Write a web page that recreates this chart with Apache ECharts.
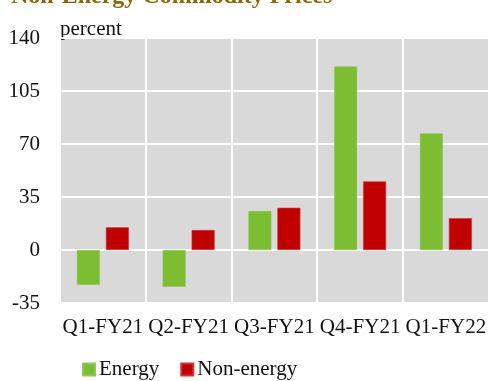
<!DOCTYPE html>
<html>
<head>
<meta charset="utf-8">
<script src="https://cdn.jsdelivr.net/npm/echarts@6/dist/echarts.min.js"></script>
<style>
  html, body { margin: 0; padding: 0; background: #fff; }
  #chart { width: 489px; height: 381px; }
</style>
</head>
<body>
<div id="chart"></div>
<script>
// Quarterly change in commodity prices, percent
var categories = ['Q1-FY21', 'Q2-FY21', 'Q3-FY21', 'Q4-FY21', 'Q1-FY22'];
var energy = [-23, -24.3, 25.8, 121.2, 77];
var nonEnergy = [15, 13.2, 27.9, 45.3, 21];
var yTicks = { min: -35, max: 140, step: 35 };

var FONT = '"Liberation Serif", "Times New Roman", serif';

var chart = echarts.init(document.getElementById('chart'), null, { renderer: 'canvas' });
chart.setOption({
  animation: false,
  backgroundColor: '#ffffff',
  textStyle: { fontFamily: FONT },
  graphic: [
    {
      type: 'text',
      left: 11,
      top: -15,
      style: {
        text: 'Non-Energy Commodity Prices',
        font: 'bold 24px ' + FONT,
        fill: '#8b6508'
      }
    },
    {
      type: 'text',
      left: 60,
      top: 19,
      style: {
        text: 'percent',
        font: '21px ' + FONT,
        fill: '#111'
      }
    }
  ],
  grid: {
    left: 60,
    right: -1,
    top: 38,
    bottom: 78,
    show: true,
    backgroundColor: '#d9d9d9',
    borderWidth: 0
  },
  legend: {
    left: 77,
    top: 354,
    itemWidth: 12,
    itemHeight: 12,
    itemGap: 21,
    icon: 'rect',
    textStyle: { fontFamily: FONT, fontSize: 21, color: '#111', padding: [0, 0, 0, -1] },
    data: ['Energy', 'Non-energy']
  },
  xAxis: {
    type: 'category',
    data: categories,
    axisLine: { show: false, onZero: false },
    axisTick: { show: false },
    splitLine: { show: true, interval: 0, lineStyle: { color: '#ffffff', width: 2 } },
    axisLabel: { interval: 0, fontFamily: FONT, fontSize: 21, color: '#111', margin: 14 }
  },
  yAxis: {
    type: 'value',
    min: yTicks.min,
    max: yTicks.max,
    interval: yTicks.step,
    axisLine: { show: false },
    axisTick: { show: false },
    splitLine: { show: true, lineStyle: { color: '#ffffff', width: 2 } },
    axisLabel: { fontFamily: FONT, fontSize: 21, color: '#111', margin: 20 }
  },
  series: [
    {
      name: 'Energy',
      type: 'bar',
      data: energy,
      barWidth: 23,
      barGap: '26%',
      itemStyle: { color: '#7cbd31', borderColor: '#8dc757', borderWidth: 0.6 }
    },
    {
      name: 'Non-energy',
      type: 'bar',
      data: nonEnergy,
      barWidth: 23,
      barGap: '26%',
      itemStyle: { color: '#c00000', borderColor: '#cc3535', borderWidth: 0.6 }
    }
  ]
});
</script>
</body>
</html>
